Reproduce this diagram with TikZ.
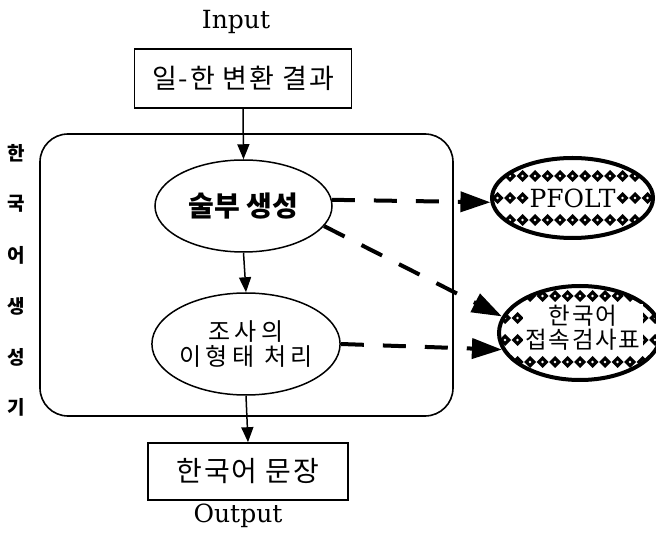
\documentclass[tikz,border=0pt]{standalone}
\usepackage{fontspec}
\newfontfamily\kr{Noto Sans CJK KR}
\newfontfamily\krs{Noto Sans CJK KR}[LetterSpace=7]
\newfontfamily\krsp{Noto Sans CJK KR}[LetterSpace=18]
\newfontfamily\ser{DejaVu Serif}
\usetikzlibrary{arrows.meta,shapes.geometric}
\begin{document}
\begin{tikzpicture}[x=1pt,y=-1pt,
  box/.style={draw, line width=1.6pt, inner sep=0pt},
  proc/.style={ellipse, draw, line width=1.5pt, inner sep=0pt, align=center},
  flow/.style={-{Triangle[length=15pt,width=12pt]}, line width=1.5pt},
  refline/.style={line width=4pt, dash pattern=on 23pt off 19pt, -{Triangle[length=30pt,width=20pt]}},
  dia/.style={path picture={\foreach \i in {-8,...,8} \foreach \j in {-3,...,3} {
      \fill ([shift={(\i*12.5pt,\j*22pt+#1)}]path picture bounding box.center) +(0,6pt) -- +(6pt,0) -- +(0,-6pt) -- +(-6pt,0) -- cycle;
      \fill[white] ([shift={(\i*12.5pt,\j*22pt+#1)}]path picture bounding box.center) +(0,1.4pt) -- +(1.4pt,0) -- +(0,-1.4pt) -- +(-1.4pt,0) -- cycle;}}},
  store/.style={ellipse, draw, line width=4pt, inner sep=0pt, align=center},
  side/.style={font=\kr\bfseries\fontsize{19}{20}\selectfont, inner sep=0pt},
  lbl/.style={font=\ser\fontsize{25}{28}\selectfont, inner sep=0pt}
]
\useasboundingbox (0,0) rectangle (656,534);

\node[draw, line width=1.6pt, rounded corners=28pt, minimum width=413pt, minimum height=282pt] (gen) at (246.5,275) {};

\node[lbl] (inp) at (236,22) {Input};
\node[box, minimum width=217pt, minimum height=59pt, font=\krs\fontsize{27}{30}\selectfont] (in) at (243,78.5) {일-한 변환 결과};

\node[proc, minimum width=177pt, minimum height=92pt, font=\kr\bfseries\fontsize{28}{30}\selectfont] (e1) at (243.5,206) {술부 생성};
\node[proc, minimum width=178pt, minimum height=102pt, font=\krsp\fontsize{24}{25}\selectfont] (e2) at (246,344) {조사의\\ 이형태 처리};

\node[box, minimum width=200pt, minimum height=57pt, font=\krs\fontsize{28}{30}\selectfont] (out) at (248,471.5) {한국어 문장};
\node[lbl] (outp) at (238,516) {Output};

\node[side] (l1) at (16,153) {한};
\node[side] (l2) at (16,204) {국};
\node[side] (l3) at (16,255) {어};
\node[side] (l4) at (16,306) {생};
\node[side] (l5) at (16,357) {성};
\node[side] (l6) at (16,407) {기};

\node[store, dia=0pt, minimum width=161pt, minimum height=80pt] (pf) at (572.5,198)
  {\setlength{\fboxsep}{1pt}\colorbox{white}{\ser\fontsize{25}{26}\selectfont PFOLT}};
\node[store, dia=-7pt, minimum width=162pt, minimum height=94pt] (kt) at (580,333) {};
\node[fill=white, inner xsep=3pt, inner ysep=1pt, align=center, font=\krs\fontsize{23.5}{24}\selectfont] (ktt) at (583,328) {한국어\\접속검사표};

\draw[flow] (in.south) -- (e1.north);
\draw[flow] (e1.south) -- (e2.north);
\draw[flow] (e2.south) -- (out.north);

\draw[refline] (e1.4) -- (pf.183);
\draw[refline] (e1.-14) -- (kt.168);
\draw[refline] (e2.east) -- (kt.192);
\end{tikzpicture}
\end{document}
